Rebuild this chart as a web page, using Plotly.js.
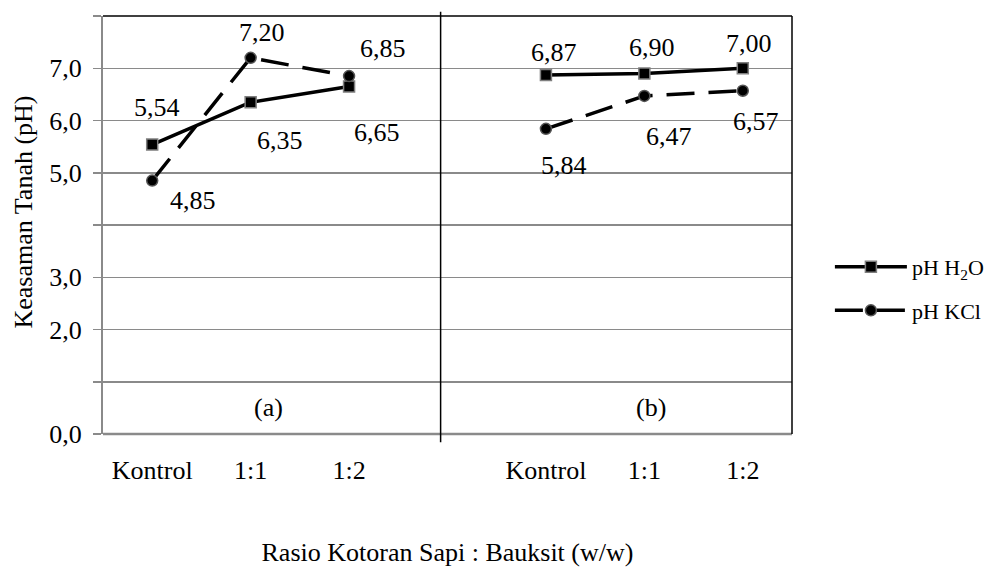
<!DOCTYPE html>
<html>
<head>
<meta charset="utf-8">
<script src="https://cdn.plot.ly/plotly-3.0.1.min.js"></script>
<style>
  html, body { margin: 0; padding: 0; background: #fff; }
  #chart { width: 1003px; height: 578px; }
</style>
</head>
<body>
<div id="chart"></div>
<script>
// Ratio categories (same three in each panel)
const categories = ['Kontrol', '1:1', '1:2'];

// Panel (a)
const phH2O_a = [5.54, 6.35, 6.65];
const phKCl_a = [4.85, 7.20, 6.85];

// Panel (b)
const phH2O_b = [6.87, 6.90, 7.00];
const phKCl_b = [5.84, 6.47, 6.57];

// labelled y ticks and the unlabelled grid steps between them
const yTickVals = [0, 2, 3, 5, 6, 7];
const yTickText = ['0,0', '2,0', '3,0', '5,0', '6,0', '7,0'];
const yGridOnly = [1, 4, 8];

// slot positions on the shared x axis: panel a -> 0..2, panel b -> 4..6
const slotsA = [0, 1, 2];
const slotsB = [4, 5, 6];

const FONT = 'Liberation Serif';
const TXT = 26;
const GRID = '#8a8a8a';
const fmt = v => v.toFixed(2).replace('.', ',');

const xAll = slotsA.concat([null], slotsB);
const h2oAll = phH2O_a.concat([null], phH2O_b);
const kclAll = phKCl_a.concat([null], phKCl_b);

const traces = [
  {
    x: xAll, y: h2oAll, type: 'scatter', mode: 'lines+markers',
    name: 'pH H<sub>2</sub>O', legendgroup: 'h2o', connectgaps: false,
    line: { color: '#000', width: 3.5 },
    marker: { symbol: 'square', size: 11, color: '#000', line: { color: '#7f7f7f', width: 1.5 } }
  },
  {
    x: xAll, y: kclAll, type: 'scatter', mode: 'lines+markers',
    name: 'pH KCl', legendgroup: 'kcl', connectgaps: false,
    line: { color: '#000', width: 3.5, dash: '28px,14px' },
    marker: { symbol: 'circle', size: 11, color: '#000', line: { color: '#555', width: 1.5 } }
  }
];

// label offsets (pixels) for each value label
const offH2O_a = [[5, 37], [29, -38], [28, -46]];
const offKCl_a = [[41, -20], [11, 25], [34, 28]];
const offH2O_b = [[8, 23], [8, 26], [6, 25]];
const offKCl_b = [[18, -37], [25, -41], [13, -31]];

const annotations = [];
function addLabels(slots, vals, offs) {
  vals.forEach((v, i) => {
    annotations.push({
      x: slots[i], y: v, xref: 'x', yref: 'y', text: fmt(v), showarrow: false,
      xshift: offs[i][0], yshift: offs[i][1],
      font: { family: FONT, size: TXT, color: '#000' }
    });
  });
}
addLabels(slotsA, phH2O_a, offH2O_a);
addLabels(slotsA, phKCl_a, offKCl_a);
addLabels(slotsB, phH2O_b, offH2O_b);
addLabels(slotsB, phKCl_b, offKCl_b);

// panel captions
annotations.push({ x: 1.18, y: 0.5, xref: 'x', yref: 'y', text: '(a)', showarrow: false,
  font: { family: FONT, size: TXT, color: '#000' } });
annotations.push({ x: 5.07, y: 0.5, xref: 'x', yref: 'y', text: '(b)', showarrow: false,
  font: { family: FONT, size: TXT, color: '#000' } });

// y axis title
annotations.push({ x: -0.116, y: 0.53, xref: 'paper', yref: 'paper', xanchor: 'center', yanchor: 'middle',
  text: 'Keasaman Tanah (pH)', textangle: -90, showarrow: false,
  font: { family: FONT, size: TXT, color: '#000' } });

const layout = {
  width: 1003, height: 578,
  margin: { l: 103, r: 211, t: 16, b: 144 },
  paper_bgcolor: '#fff', plot_bgcolor: '#fff',
  font: { family: FONT, color: '#000' },
  showlegend: true,
  legend: {
    x: 1.055, y: 0.45, xanchor: 'left', yanchor: 'top',
    font: { family: FONT, size: 22, color: '#000' },
    bgcolor: 'rgba(0,0,0,0)', itemwidth: 72,
    traceorder: 'grouped', tracegroupgap: 12
  },
  xaxis: {
    range: [-0.5, 6.5], tickvals: slotsA.concat(slotsB),
    ticktext: categories.concat(categories),
    showgrid: false, zeroline: false, showline: false, ticks: '',
    ticklabelstandoff: 18,
    tickfont: { family: FONT, size: TXT, color: '#000' },
    title: { text: 'Rasio Kotoran Sapi : Bauksit (w/w)', standoff: 58,
      font: { family: FONT, size: TXT, color: '#000' } }
  },
  yaxis: {
    range: [0, 8], tickmode: 'array', tickvals: yTickVals, ticktext: yTickText,
    showgrid: true, gridcolor: GRID, gridwidth: 1.5,
    zeroline: false, showline: true, linecolor: GRID, linewidth: 2,
    ticks: 'outside', ticklen: 8, tickcolor: GRID, tickwidth: 1.5,
    ticklabelstandoff: 6,
    tickfont: { family: FONT, size: TXT, color: '#000' },
    minor: {
      tickmode: 'array', tickvals: yGridOnly, ticks: 'outside', ticklen: 8,
      tickcolor: GRID, tickwidth: 1.5, showgrid: true, gridcolor: GRID, gridwidth: 1.5
    }
  },
  shapes: [
    // bottom axis line
    { type: 'line', xref: 'paper', yref: 'paper', x0: 0, x1: 1, y0: 0, y1: 0,
      line: { color: GRID, width: 2.5 } },
    // top border
    { type: 'line', xref: 'paper', yref: 'paper', x0: 0, x1: 1, y0: 1, y1: 1,
      line: { color: '#000', width: 1.5 } },
    // right border
    { type: 'line', xref: 'paper', yref: 'paper', x0: 1, x1: 1, y0: 0, y1: 1,
      line: { color: '#000', width: 1.5 } },
    // panel divider
    { type: 'line', xref: 'x', yref: 'paper', x0: 2.93, x1: 2.93, y0: -0.02, y1: 1.01,
      line: { color: '#000', width: 1.5 } }
  ],
  annotations: annotations
};

Plotly.newPlot('chart', traces, layout, { displayModeBar: false, staticPlot: true });
</script>
</body>
</html>
